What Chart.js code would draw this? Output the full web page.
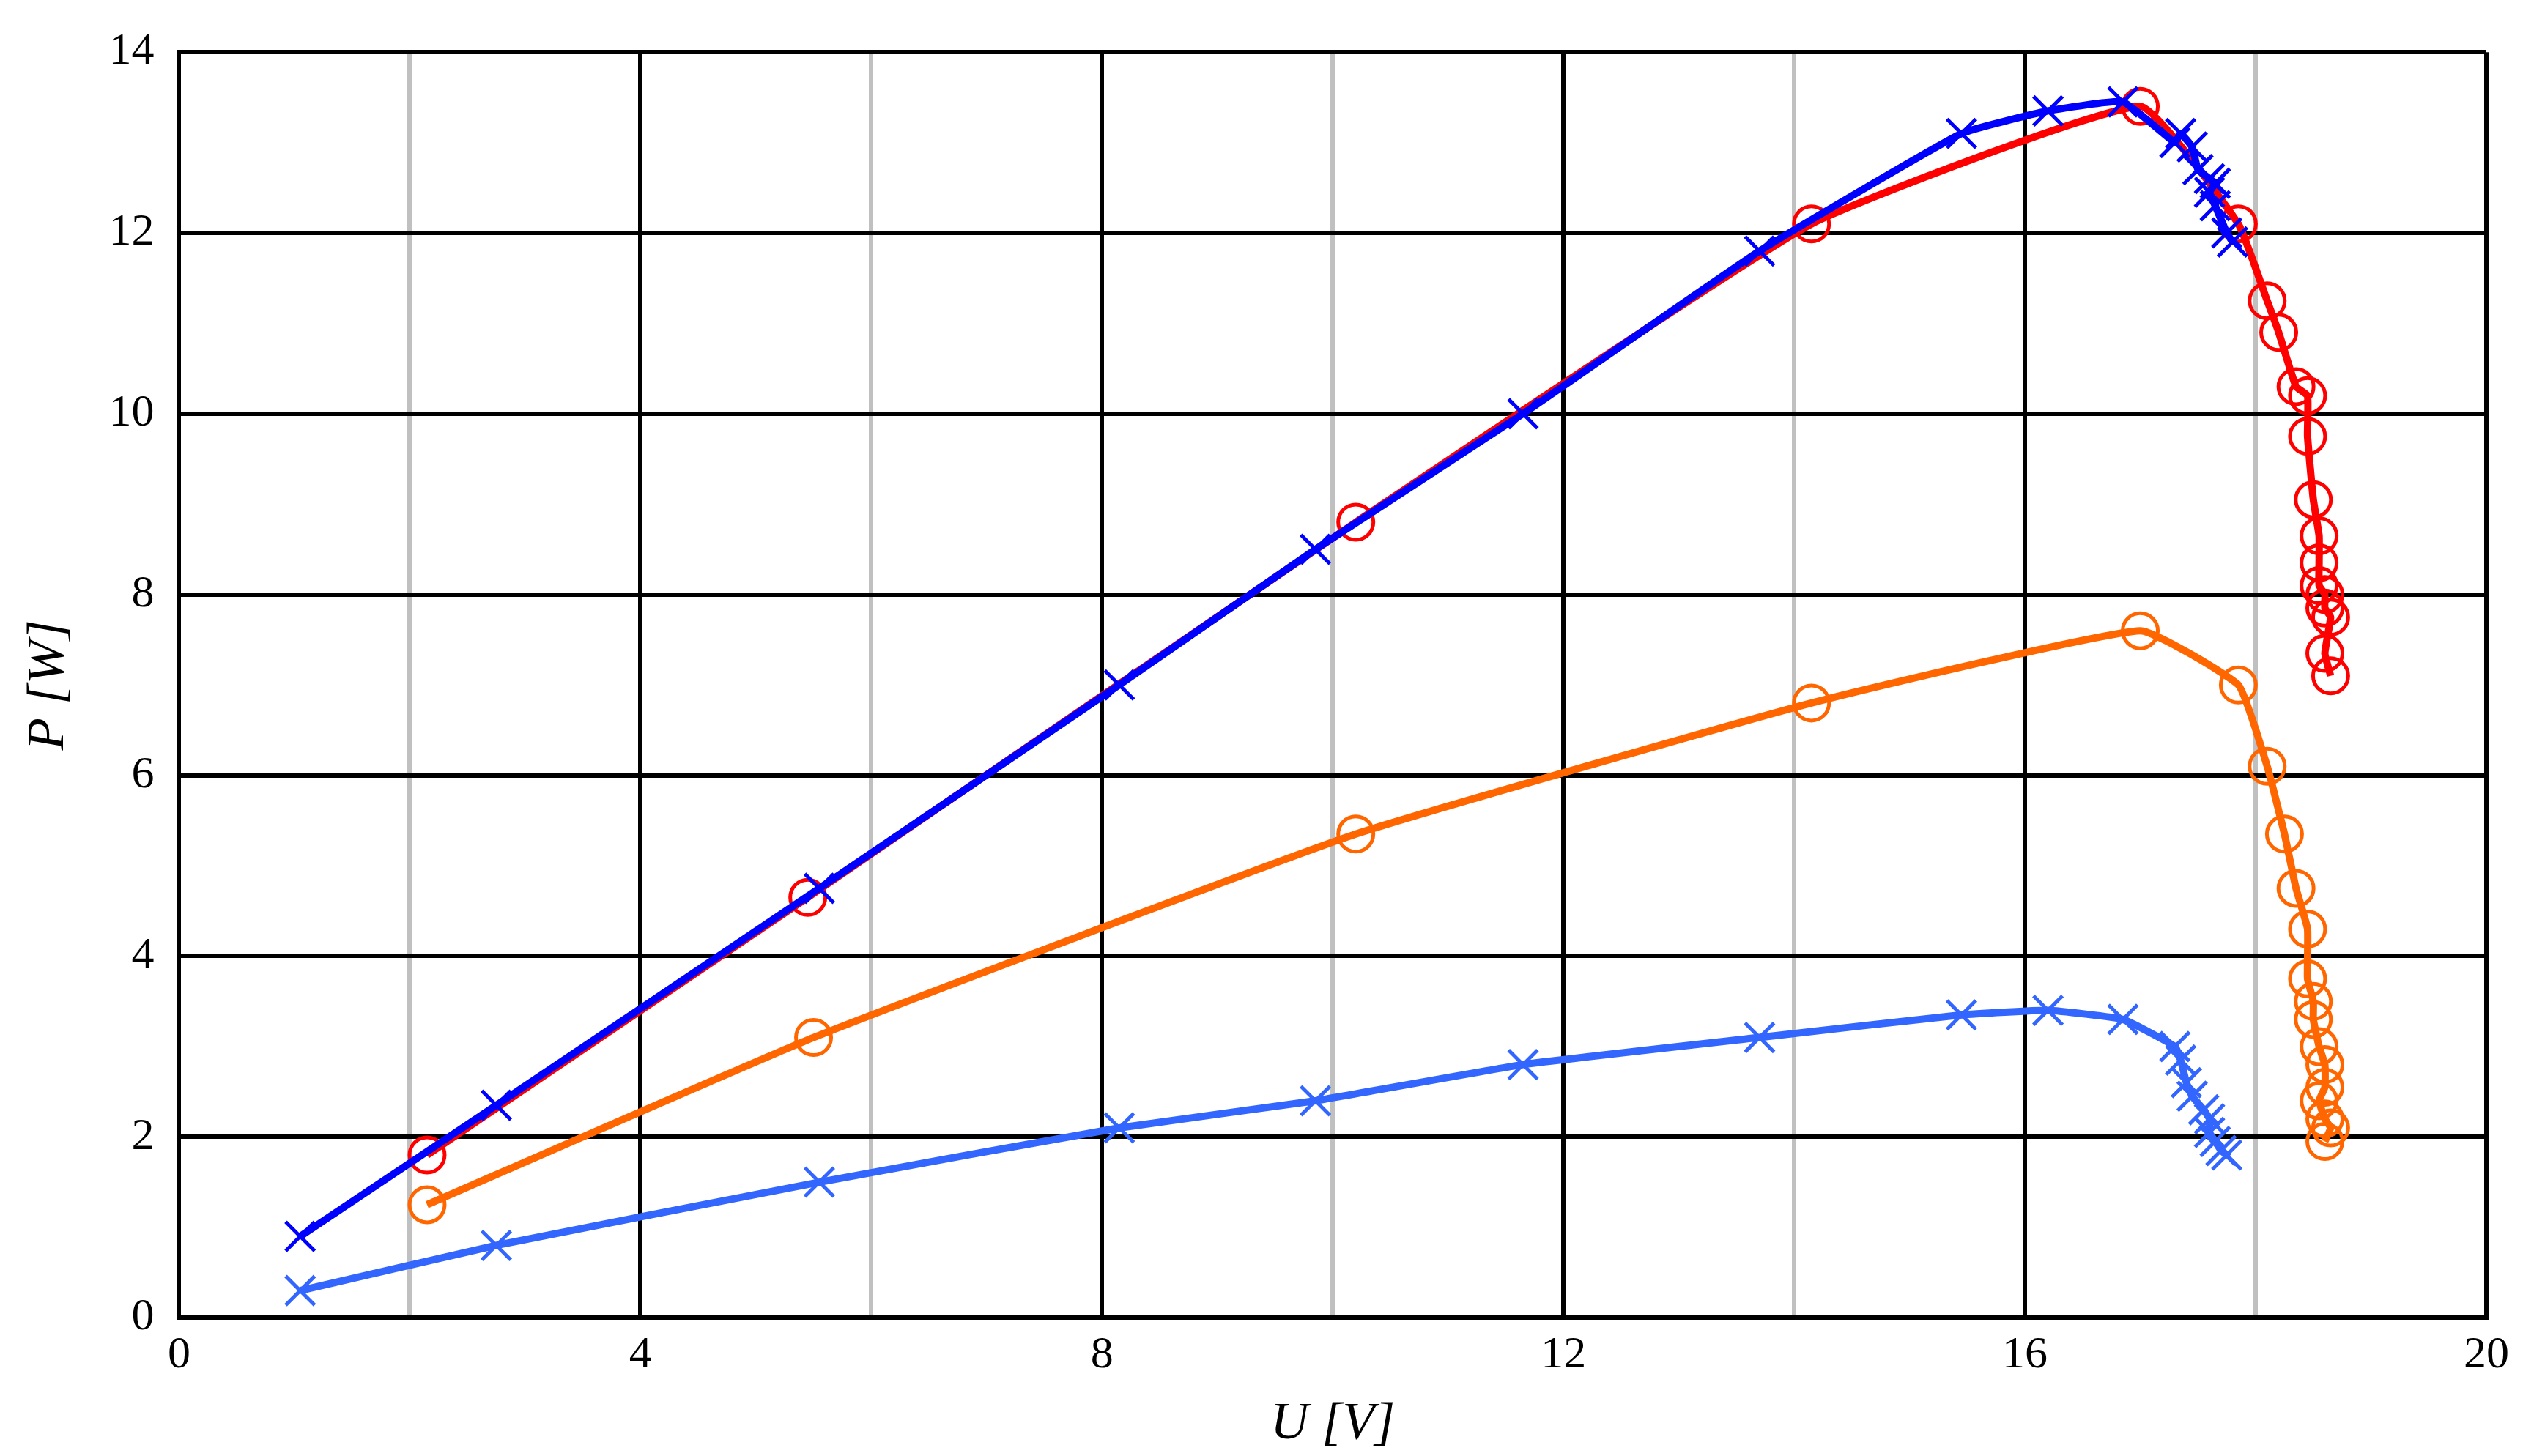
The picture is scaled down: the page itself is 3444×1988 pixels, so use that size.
<!DOCTYPE html>
<html><head><meta charset="utf-8">
<script src="https://cdn.jsdelivr.net/npm/chart.js@4"></script>
<style>html,body{margin:0;background:#fff}</style>
</head><body>
<canvas id="c" width="3444" height="1988"></canvas>
<script>
const redU = [2.15,5.45,10.2,14.15,17.0,17.85,18.1,18.2,18.35,18.45,18.45,18.5,18.55,18.55,18.55,18.6,18.6,18.65,18.6,18.65];
const redP = [1.8,4.65,8.8,12.1,13.4,12.1,11.25,10.9,10.3,10.2,9.75,9.05,8.65,8.35,8.1,8.0,7.85,7.75,7.35,7.1];
const orangeU = [2.15,5.5,10.2,14.15,17.0,17.85,18.1,18.25,18.35,18.45,18.45,18.5,18.5,18.55,18.6,18.6,18.55,18.6,18.65,18.6];
const orangeP = [1.25,3.1,5.35,6.8,7.6,7.0,6.1,5.35,4.75,4.3,3.75,3.5,3.3,3.0,2.8,2.55,2.4,2.2,2.1,1.95];
const blueU = [1.05,2.75,5.55,8.15,9.85,11.65,13.7,15.45,16.2,16.85,17.3,17.35,17.45,17.5,17.6,17.65,17.6,17.65,17.75,17.8];
const blueP = [0.9,2.35,4.75,7.0,8.5,10.0,11.8,13.1,13.35,13.45,13.0,13.1,12.95,12.7,12.6,12.55,12.45,12.3,12.0,11.9];
const lightU = [1.05,2.75,5.55,8.15,9.85,11.65,13.7,15.45,16.2,16.85,17.3,17.35,17.4,17.45,17.55,17.6,17.6,17.65,17.7,17.75];
const lightP = [0.3,0.8,1.5,2.1,2.4,2.8,3.1,3.35,3.4,3.3,3.0,2.85,2.6,2.45,2.3,2.2,2.05,1.95,1.85,1.8];

const pts = (u, p) => u.map((x, i) => ({x: x, y: p[i]}));
const serie = (u, p, color, style) => ({
  data: pts(u, p), borderColor: color, backgroundColor: 'rgba(0,0,0,0)',
  borderWidth: 10, pointStyle: style, pointRadius: style === 'circle' ? 24 : 28,
  pointBorderWidth: 5, pointBorderColor: color, tension: 0.12, showLine: true
});

const font = {family: "'Liberation Serif', 'DejaVu Serif', serif", size: 62};
// first dataset is drawn on top
new Chart(document.getElementById('c').getContext('2d'), {
  type: 'scatter',
  data: {datasets: [
    serie(blueU, blueP, '#0000ff', 'crossRot'),
    serie(redU, redP, '#ff0000', 'circle'),
    serie(orangeU, orangeP, '#ff6600', 'circle'),
    serie(lightU, lightP, '#3366ff', 'crossRot')
  ]},
  options: {
    responsive: false, devicePixelRatio: 1, animation: false,
    layout: {padding: {top: 14, right: 50, left: 20, bottom: 0}},
    plugins: {legend: {display: false}, tooltip: {enabled: false}},
    scales: {
      x: {
        min: 0, max: 20,
        ticks: {stepSize: 2, color: '#000', font: font, padding: 14,
          callback: v => v % 4 === 0 ? v : ''},
        grid: {color: c => c.tick.value % 4 === 0 ? '#000' : '#c0c0c0',
          lineWidth: 6, drawTicks: false},
        border: {color: '#000', width: 6},
        title: {display: true, text: 'U [V]', color: '#000', padding: 0,
          font: {family: font.family, size: 72, style: 'italic'}}
      },
      y: {
        min: 0, max: 14,
        ticks: {stepSize: 2, color: '#000', font: font, padding: 34},
        grid: {color: '#000', lineWidth: 6, drawTicks: false},
        border: {color: '#000', width: 6},
        title: {display: true, text: 'P [W]', color: '#000', padding: 4,
          font: {family: font.family, size: 72, style: 'italic'}}
      }
    }
  }
});
</script>
</body></html>
